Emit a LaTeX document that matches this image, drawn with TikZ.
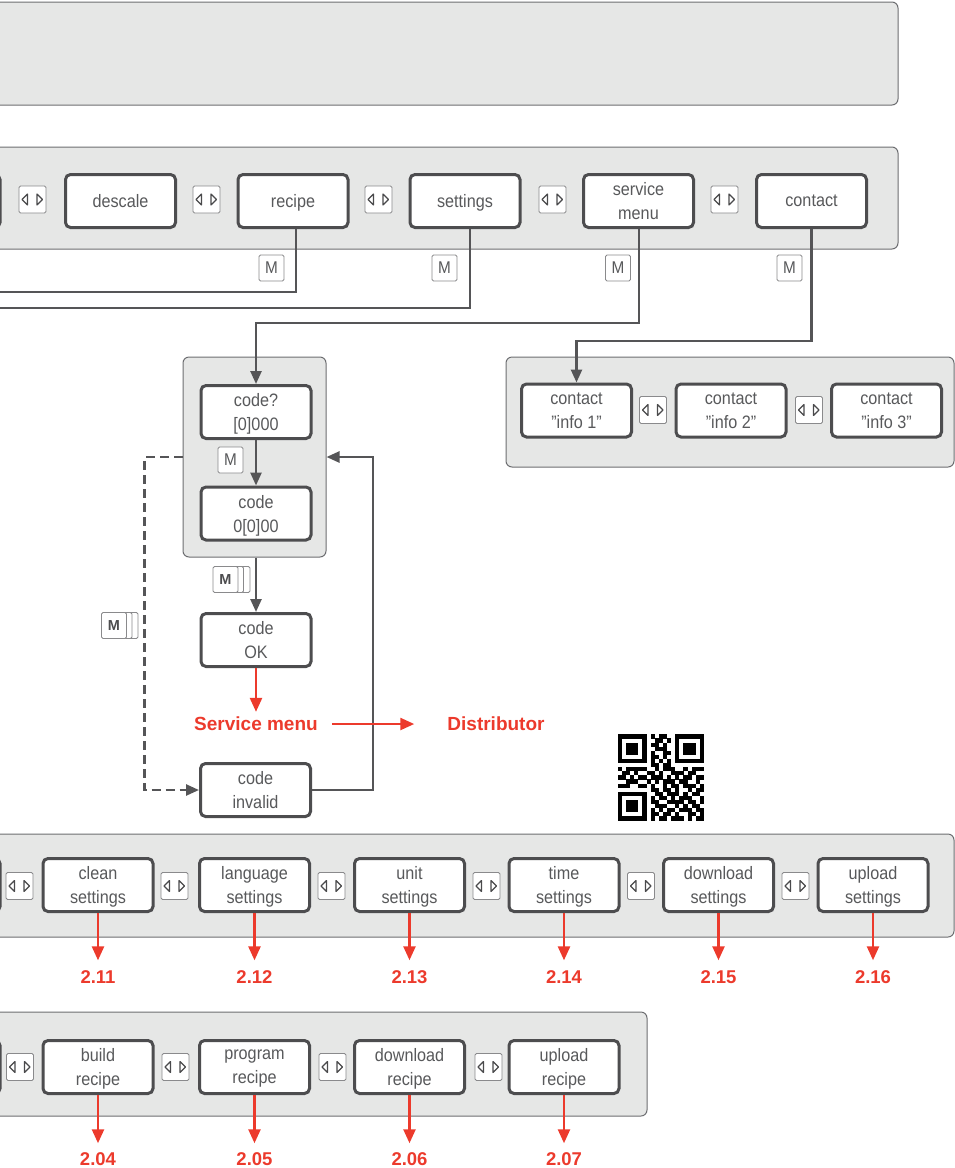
\documentclass[tikz,border=0pt]{standalone}
\usepackage{fontspec}
\setmainfont{Liberation Sans}
\newfontfamily\boxfont[FakeStretch=0.9]{Liberation Sans}
\usetikzlibrary{arrows.meta,calc}
\definecolor{panelfill}{HTML}{E6E7E6}
\definecolor{paneldraw}{HTML}{6D6E71}
\definecolor{boxdraw}{HTML}{4D4D4F}
\definecolor{txtgray}{HTML}{58595B}
\definecolor{linegray}{HTML}{555557}
\definecolor{btndraw}{HTML}{8A8A8C}
\definecolor{trigray}{HTML}{4A4A4C}
\definecolor{redc}{HTML}{EC3A2C}
\begin{document}
\begin{tikzpicture}[x=1pt,y=-1pt,
 panel/.style={draw=paneldraw, fill=panelfill, line width=1pt, rounded corners=6pt},
 menubox/.style={draw=boxdraw, fill=white, line width=3pt, rounded corners=5pt,
   minimum width=110pt, minimum height=53pt, inner sep=0pt, align=center,
   text depth=0pt, text=txtgray, font=\boxfont\fontsize{18}{24}\selectfont},
 navbtn/.style={draw=btndraw, fill=white, line width=0.8pt, rounded corners=1.5pt,
   minimum width=27pt, minimum height=27pt, inner sep=0pt,
   path picture={
     \draw[draw=trigray, line width=1.1pt, line join=round, sharp corners]
       ([xshift=-10.5pt]path picture bounding box.center) -- ++(5.5pt,5.5pt) -- ++(0pt,-11pt) -- cycle;
     \draw[draw=trigray, line width=1.1pt, line join=round, sharp corners]
       ([xshift=10pt]path picture bounding box.center) -- ++(-5.5pt,5.5pt) -- ++(0pt,-11pt) -- cycle;
   }},
 mbtn/.style={draw=btndraw, fill=white, line width=0.8pt, rounded corners=1.5pt,
   minimum width=25pt, minimum height=26pt, inner sep=0pt, text=txtgray,
   font=\boxfont\fontsize{17}{18}\selectfont},
 mstack/.style={mbtn, text=boxdraw, font=\fontsize{14.5}{16}\selectfont\bfseries},
 conn/.style={draw=linegray, line width=2.5pt},
 arr/.style={conn, -{Triangle[length=13pt,width=11pt]}},
 redarr/.style={draw=redc, line width=2.5pt, -{Triangle[length=14pt,width=12pt]}},
 redlbl/.style={text=redc, font=\fontsize{19}{22}\selectfont\bfseries, inner sep=0pt},
 numlbl/.style={text=redc, font=\fontsize{18.5}{20}\selectfont\bfseries, inner sep=0pt},
]
\useasboundingbox (0,0) rectangle (955,1168);
\clip (0,0) rectangle (955,1168);

% ---------- panels ----------
\draw[panel] (-10,2) rectangle (898,105);
\draw[panel] (-10,147) rectangle (898,249);
\draw[panel] (506,357) rectangle (954,467);
\draw[panel] (-10,834) rectangle (954,937);
\draw[panel] (-10,1012) rectangle (647,1116);
\node[panel, minimum width=143pt, minimum height=200pt, inner sep=0pt] (codepanel) at (254.5,457) {};

% ---------- main menu row ----------
\node[menubox] (hid1) at (-55,201) {};
\node[navbtn] (b1) at (32.5,199.5) {};
\node[menubox] (descale) at (120.5,201) {descale};
\node[navbtn] (b2) at (206.5,199.5) {};
\node[menubox] (recipe) at (293,201) {recipe};
\node[navbtn] (b3) at (378.5,199.5) {};
\node[menubox] (settings) at (465,201) {settings};
\node[navbtn] (b4) at (552.5,199.5) {};
\node[menubox] (service) at (638.5,201) {service\\menu};
\node[navbtn] (b5) at (724.5,199.5) {};
\node[menubox] (contact) at (811.5,201) {contact};

\node[mbtn] (m1) at (271.5,268) {M};
\node[mbtn] (m2) at (444.5,268) {M};
\node[mbtn] (m3) at (618,268) {M};
\node[mbtn] (m4) at (789.5,268) {M};

% ---------- contact info ----------
\node[menubox] (ci1) at (576.5,410.5) {contact\\”info 1”};
\node[navbtn] (b6) at (653,410) {};
\node[menubox] (ci2) at (731,410.5) {contact\\”info 2”};
\node[navbtn] (b7) at (809,410) {};
\node[menubox] (ci3) at (886.5,410.5) {contact\\”info 3”};

% ---------- code entry ----------
\node[menubox] (code1) at (256,412) {code?\\{[0]}000};
\node[menubox] (code2) at (256,513.5) {code\\0{[0]}00};
\node[mbtn] (m5) at (230.5,460) {M};
\node[menubox] (codeok) at (256,640) {code\\OK};
\node[menubox] (codeinv) at (255.5,790) {code\\invalid};

\node[mstack] (ms1c) at (237.5,579.5) {};
\node[mstack] (ms1b) at (231,579.5) {};
\node[mstack] (ms1) at (225.5,579.5) {M};
\node[mstack] (ms2c) at (125.5,625.5) {};
\node[mstack] (ms2b) at (119.5,625.5) {};
\node[mstack] (ms2) at (114,625.5) {M};

% ---------- settings row ----------
\node[menubox] (hid2) at (-55,885) {};
\node[navbtn] (b8) at (19.5,886) {};
\node[menubox] (clean) at (98,885) {clean\\settings};
\node[navbtn] (b9) at (174.5,886) {};
\node[menubox] (lang) at (254.5,885) {language\\settings};
\node[navbtn] (b10) at (331.5,886) {};
\node[menubox] (unit) at (409.5,885) {unit\\settings};
\node[navbtn] (b11) at (486.5,886) {};
\node[menubox] (time) at (564,885) {time\\settings};
\node[navbtn] (b12) at (641,886) {};
\node[menubox] (dlset) at (718.5,885) {download\\settings};
\node[navbtn] (b13) at (795.5,886) {};
\node[menubox] (ulset) at (873,885) {upload\\settings};

% ---------- recipe row ----------
\node[menubox] (hid3) at (-55,1067) {};
\node[navbtn] (b14) at (20,1067) {};
\node[menubox] (build) at (98,1067) {build\\recipe};
\node[navbtn] (b15) at (175.5,1067) {};
\node[menubox] (prog) at (254.5,1067) {program\\recipe};
\node[navbtn] (b16) at (332.5,1067) {};
\node[menubox] (dlrec) at (409.5,1067) {download\\recipe};
\node[navbtn] (b17) at (488.5,1067) {};
\node[menubox] (ulrec) at (564,1067) {upload\\recipe};

% ---------- connectors ----------
\coordinate (leftA) at (-5,292);
\coordinate (leftB) at (-5,308);
\coordinate (retx) at (373,0);
\draw[conn] ([xshift=3pt]recipe.south) |- (leftA);
\draw[conn] ([xshift=5pt]settings.south) |- (leftB);
\draw[arr] ([xshift=0.5pt]service.south) -- ++(0,94) -| (code1.north);
\draw[arr] (contact.south) -- ++(0,112) -| (ci1.north);
\draw[arr] (code1.south) -- (code2.north);
\draw[arr] (codepanel.south -| codeok.north) -- (codeok.north);
\draw[conn, dash pattern=on 9pt off 5pt, -{Triangle[length=13pt,width=11pt]}]
  (codepanel.west) -- ++(-38,0) |- (codeinv.west);
\draw[arr] (codeinv.east) -- (codeinv.east -| retx) |- (codepanel.east);

% ---------- red ----------
\node[redlbl] (svc) at (256,724) {Service menu};
\node[redlbl] (dist) at (496,724) {Distributor};
\draw[redarr] (codeok.south) -- ([yshift=5pt]svc.north);
\draw[redarr] ([xshift=14pt]svc.east) -- ([xshift=-33pt]dist.west);

\node[numlbl] (n211) at (98,977) {2.11};
\node[numlbl] (n212) at (254.5,977) {2.12};
\node[numlbl] (n213) at (409.5,977) {2.13};
\node[numlbl] (n214) at (564,977) {2.14};
\node[numlbl] (n215) at (718.5,977) {2.15};
\node[numlbl] (n216) at (873,977) {2.16};
\draw[redarr] (clean.south) -- ([yshift=10pt]n211.north);
\draw[redarr] (lang.south) -- ([yshift=10pt]n212.north);
\draw[redarr] (unit.south) -- ([yshift=10pt]n213.north);
\draw[redarr] (time.south) -- ([yshift=10pt]n214.north);
\draw[redarr] (dlset.south) -- ([yshift=10pt]n215.north);
\draw[redarr] (ulset.south) -- ([yshift=10pt]n216.north);

\node[numlbl] (n204) at (98,1159) {2.04};
\node[numlbl] (n205) at (254.5,1159) {2.05};
\node[numlbl] (n206) at (409.5,1159) {2.06};
\node[numlbl] (n207) at (564,1159) {2.07};
\draw[redarr] (build.south) -- ([yshift=9pt]n204.north);
\draw[redarr] (prog.south) -- ([yshift=9pt]n205.north);
\draw[redarr] (dlrec.south) -- ([yshift=9pt]n206.north);
\draw[redarr] (ulrec.south) -- ([yshift=9pt]n207.north);

% ---------- QR code ----------
\node[inner sep=0pt, minimum size=86pt] (qr) at (661,777.5) {};
\foreach \qrow [count=\qi from 0] in {
 {1,1,1,1,1,1,1,0,1,0,1,1,0,0,1,1,1,1,1,1,1},
 {1,0,0,0,0,0,1,0,0,1,1,0,1,0,1,0,0,0,0,0,1},
 {1,0,1,1,1,0,1,0,1,1,0,1,0,0,1,0,1,1,1,0,1},
 {1,0,1,1,1,0,1,0,0,1,1,1,0,0,1,0,1,1,1,0,1},
 {1,0,1,1,1,0,1,0,1,0,0,1,1,0,1,0,1,1,1,0,1},
 {1,0,0,0,0,0,1,0,1,1,0,1,0,0,1,0,0,0,0,0,1},
 {1,1,1,1,1,1,1,0,1,0,1,0,1,0,1,1,1,1,1,1,1},
 {0,0,0,0,0,0,0,0,1,1,0,1,1,0,0,0,0,0,0,0,0},
 {1,0,1,1,1,1,1,0,0,1,0,1,1,1,0,0,1,0,1,1,1},
 {0,1,1,0,1,0,0,1,1,0,1,0,0,1,1,1,0,1,1,0,0},
 {1,1,0,1,0,1,1,0,1,1,1,0,1,0,1,0,1,1,0,1,1},
 {0,0,1,1,1,0,0,1,0,1,0,1,1,1,0,1,1,0,0,1,0},
 {1,1,1,0,0,1,1,0,1,0,0,1,0,1,1,0,1,1,1,0,1},
 {0,0,0,0,0,0,0,0,1,1,0,1,1,0,1,0,0,1,0,1,1},
 {1,1,1,1,1,1,1,0,0,1,1,0,1,1,1,0,1,0,1,1,0},
 {1,0,0,0,0,0,1,0,1,0,1,1,0,1,0,1,1,1,0,0,1},
 {1,0,1,1,1,0,1,0,1,1,0,0,1,1,1,1,0,1,1,0,1},
 {1,0,1,1,1,0,1,0,0,1,1,1,0,0,1,0,1,0,1,1,0},
 {1,0,1,1,1,0,1,0,1,0,1,0,1,1,0,1,1,1,0,1,1},
 {1,0,0,0,0,0,1,0,1,1,0,1,1,0,1,0,0,1,1,0,1},
 {1,1,1,1,1,1,1,0,1,0,1,1,0,1,1,1,0,1,0,1,1}} {
  \foreach \qc [count=\qj from 0] in \qrow {
    \ifnum\qc=1
      \fill[black] ($(qr.north west)+(\qj*4.1,\qi*4.1)$) rectangle ++(4.2,4.2);
    \fi
  }
}
\end{tikzpicture}
\end{document}
